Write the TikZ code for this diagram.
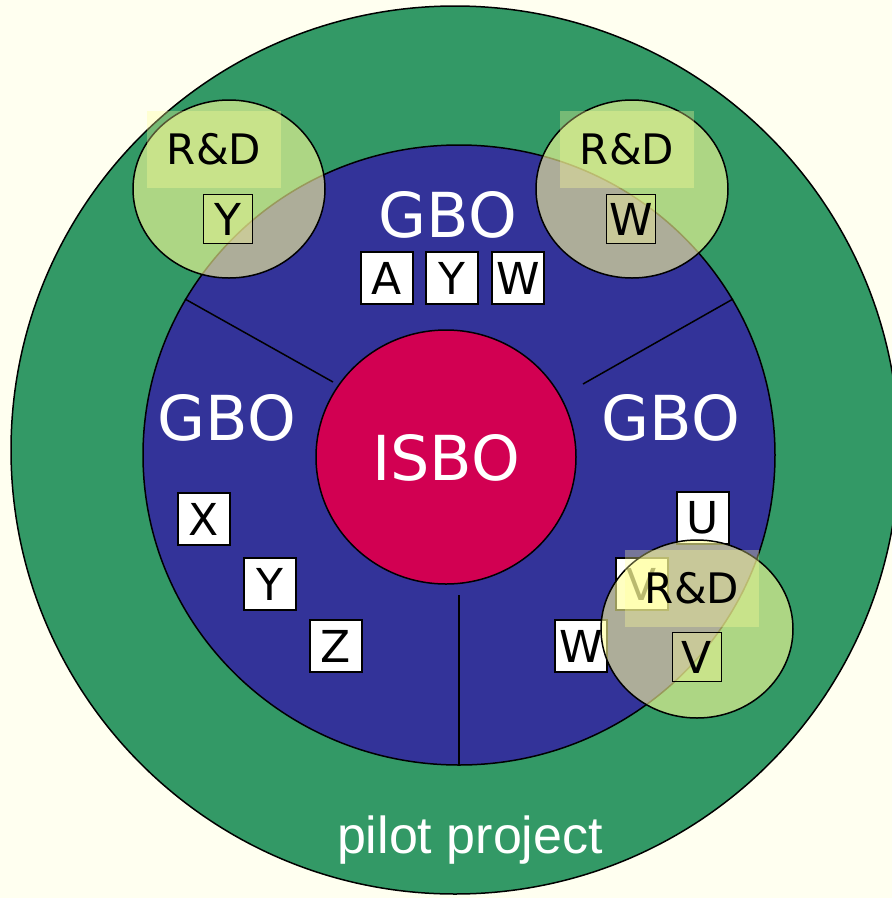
\documentclass[tikz,border=0pt]{standalone}
\usepackage{fontspec}
\setmainfont{DejaVu Sans}
\newfontfamily\pilotfont{Liberation Sans}
\definecolor{ivory}{RGB}{255,255,240}
\definecolor{pilotgreen}{RGB}{51,153,102}
\definecolor{gboblue}{RGB}{51,51,153}
\definecolor{isbored}{RGB}{210,0,82}
\definecolor{rdyellow}{RGB}{255,255,153}

\begin{document}
\begin{tikzpicture}[x=1pt,y=-1pt,line width=1.5pt,
letter/.style={draw,fill=white,line width=1.2pt,minimum size=52pt,inner sep=0pt,font=\fontsize{44}{48}\selectfont},
rdbox/.style={draw,fill=rdyellow,fill opacity=0.33,text opacity=1,line width=1.2pt,minimum size=49pt,inner sep=0pt,font=\fontsize{44}{48}\selectfont},
rdlabel/.style={fill=rdyellow,fill opacity=0.33,text opacity=1,minimum width=134pt,minimum height=77pt,inner sep=0pt,font=\fontsize{42}{46}\selectfont},
rdcircle/.style={draw,fill=rdyellow,fill opacity=0.6},
unit/.style={text=white,font=\fontsize{62}{66}\selectfont}]
\useasboundingbox (0,0) rectangle (892,898);
\clip (0,0) rectangle (892,898);
\fill[ivory] (0,0) rectangle (892,898);
% rings
\draw[fill=pilotgreen] (455,450) circle (444);
\draw[fill=gboblue] (459,455) ellipse [x radius=316,y radius=310];
\draw (185,299)--(333,382);
\draw (733,299)--(583,384);
\draw (459,595)--(459,765);
\draw[fill=isbored] (446,457) ellipse [x radius=130,y radius=127];
\node[unit] (isbo) at (446,458) {ISBO};
\node[unit] (gbotop) at (448,215) {GBO};
\node[unit] (gboleft) at (227,418) {GBO};
\node[unit] (gboright) at (671,418) {GBO};
\node[text=white,font=\pilotfont\fontsize{52}{56}\selectfont,anchor=base] (pilot) at (470,853) {pilot project};
% business units
\node[letter] (topa) at (387,278) {A};
\node[letter] (topy) at (452,278) {Y};
\node[letter] (topw) at (518,278) {W};
\node[letter] (leftx) at (204,519) {X};
\node[letter] (lefty) at (270,584) {Y};
\node[letter] (leftz) at (336,646) {Z};
\node[letter] (rightu) at (703,518) {U};
\node[letter] (rightv) at (642,584) {V};
\node[letter] (rightw) at (581,646) {W};
% R&D
\draw[rdcircle] (229,189) ellipse [x radius=96,y radius=89];
\draw[rdcircle] (632,189) ellipse [x radius=96,y radius=89];
\draw[rdcircle] (697,629) ellipse [x radius=96,y radius=89];
\node[rdlabel] (rdleft) at (214,149) {R\&D};
\node[rdlabel] (rdtop) at (627,149) {R\&D};
\node[rdlabel] (rdright) at (692,588) {R\&D};
\node[rdbox] (rdlefty) at (228,219) {Y};
\node[rdbox] (rdtopw) at (631,219) {W};
\node[rdbox] (rdrightv) at (697,657) {V};
\end{tikzpicture}
\end{document}
